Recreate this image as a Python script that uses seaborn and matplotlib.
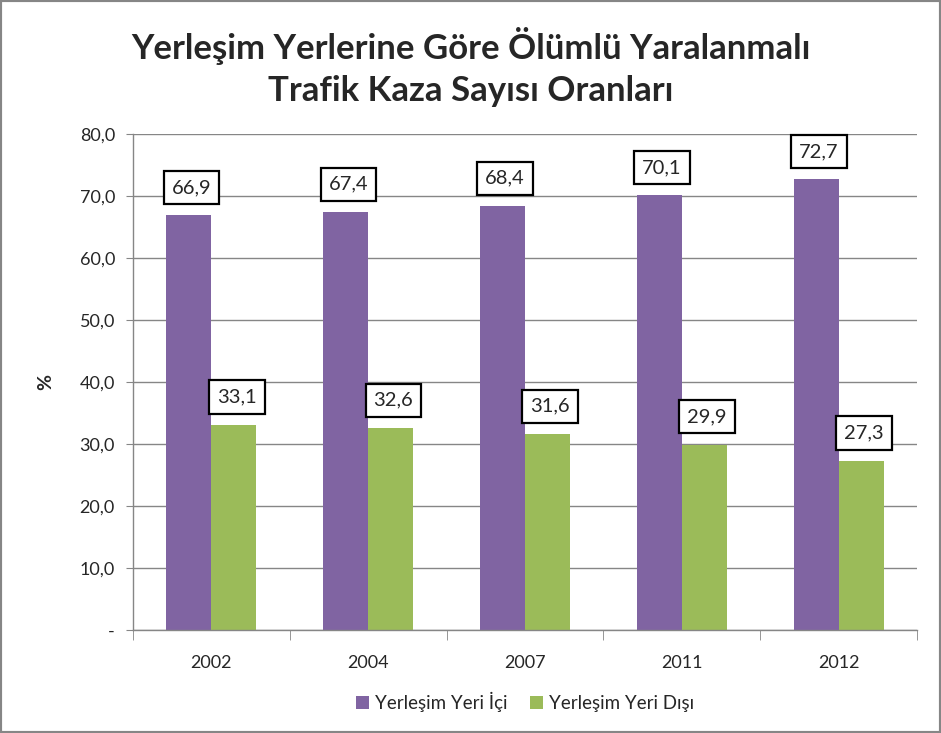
import matplotlib
matplotlib.use("Agg")
import matplotlib.pyplot as plt
import seaborn as sns
import pandas as pd
from matplotlib.patches import Rectangle

years = ["2002", "2004", "2007", "2011", "2012"]
inside = [66.9, 67.4, 68.4, 70.1, 72.7]
outside = [33.1, 32.6, 31.6, 29.9, 27.3]
series_names = ["Yerleşim Yeri İçi", "Yerleşim Yeri Dışı"]
yticks = [0, 10, 20, 30, 40, 50, 60, 70, 80]
ytick_labels = ["-", "10,0", "20,0", "30,0", "40,0", "50,0", "60,0", "70,0", "80,0"]

sns.set_style("white")
plt.rcParams['font.family'] = ['Lato', 'DejaVu Sans']

df = pd.DataFrame({
    "Yıl": years * 2,
    "Değer": inside + outside,
    "Seri": [series_names[0]] * 5 + [series_names[1]] * 5,
})

fig = plt.figure(figsize=(9.41, 7.33), dpi=100)
ax = fig.add_axes([0.1413, 0.1405, 0.8332, 0.6767])
palette = {series_names[0]: "#8064A2", series_names[1]: "#9BBB59"}
sns.barplot(data=df, x="Yıl", y="Değer", hue="Seri", palette=palette,
            width=0.575, saturation=1, ax=ax, legend=True, linewidth=0)

ax.set_ylim(0, 80)
ax.set_xlim(-0.5, 4.5)
ax.set_yticks(yticks)
ax.set_yticklabels(ytick_labels, fontsize=13)
ax.yaxis.grid(True, color="#868686", linewidth=1)
ax.set_axisbelow(True)
ax.set_xlabel("")
ax.set_ylabel("%", fontsize=14, fontweight="bold", labelpad=18)

for s in ["top", "right"]:
    ax.spines[s].set_visible(False)
for s in ["left", "bottom"]:
    ax.spines[s].set_color("#868686")
    ax.spines[s].set_linewidth(1)

ax.tick_params(axis="y", which="major", length=5, color="#868686", direction="out", left=True, pad=8)
ax.tick_params(axis="x", which="major", length=0, labelsize=13, pad=18)
ax.set_xticks([i - 0.5 for i in range(6)], minor=True)
ax.tick_params(axis="x", which="minor", length=7, color="#868686", direction="out", bottom=True)

for container in ax.containers:
    for bar in container:
        h = bar.get_height()
        ax.annotate(f"{h:.1f}".replace(".", ","),
                    xy=(bar.get_x() + bar.get_width() / 2, h),
                    xytext=(2, 20), textcoords="offset points",
                    ha="center", va="center", fontsize=14.5,
                    bbox=dict(boxstyle="square,pad=0.4", fc="white", ec="black", lw=1.6))

leg = ax.legend(loc="upper center", bbox_to_anchor=(0.5, -0.09), ncol=2, frameon=False,
                fontsize=13.5, handlelength=0.7, handleheight=0.7, handletextpad=0.3,
                columnspacing=1.2)

fig.text(0.5, 0.937, "Yerleşim Yerlerine Göre Ölümlü Yaralanmalı", ha="center", va="center",
         fontsize=25, fontweight="bold")
fig.text(0.5, 0.876, "Trafik Kaza Sayısı Oranları", ha="center", va="center",
         fontsize=25, fontweight="bold")

fig.patches.append(Rectangle((0, 0), 1, 1, transform=fig.transFigure, fill=False,
                             edgecolor="#868686", linewidth=3, zorder=10))

fig.savefig("out.png", dpi=100)
